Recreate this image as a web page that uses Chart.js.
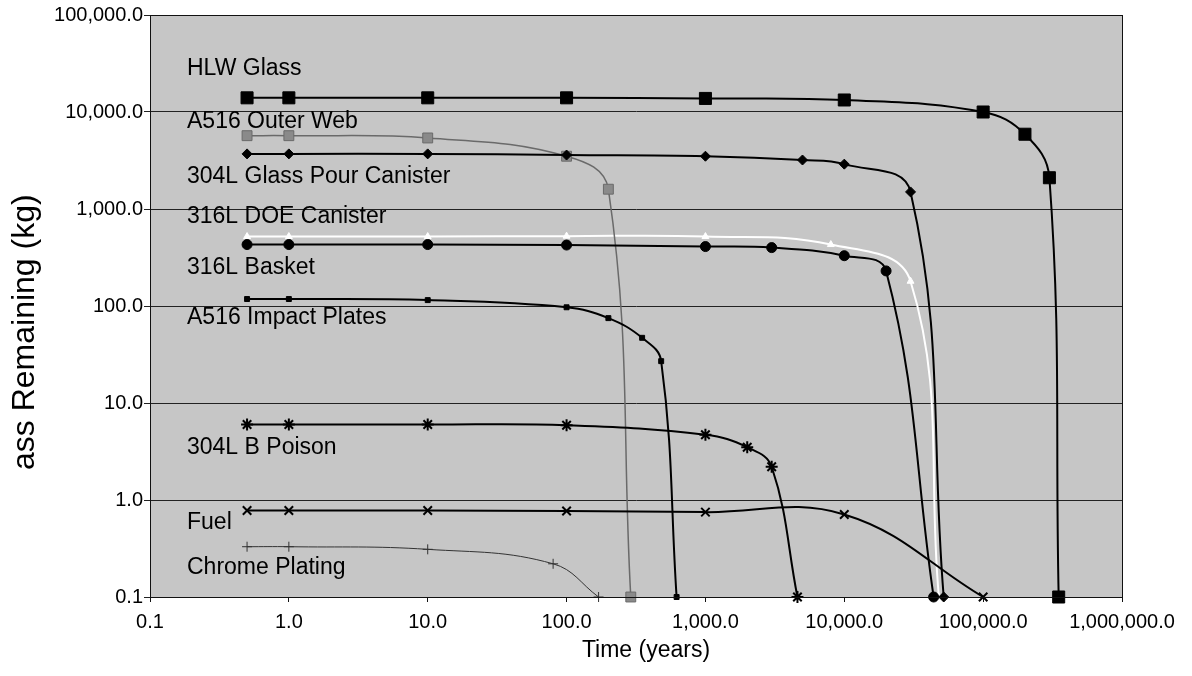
<!DOCTYPE html>
<html>
<head>
<meta charset="utf-8">
<script src="https://cdn.jsdelivr.net/npm/chart.js@4/dist/chart.umd.min.js"></script>
<style>
  html, body { margin: 0; padding: 0; background: #fff; }
</style>
</head>
<body>
<canvas id="decay" width="1192" height="676"></canvas>
<script>
// tick values for both log axes
const xTicks = [0.1, 1, 10, 100, 1000, 10000, 100000, 1000000];
const yTicks = [0.1, 1, 10, 100, 1000, 10000, 100000];

// time (years) and mass remaining (kg)
const hlwYears = [0.5, 1, 10, 100, 1000, 10000, 100000, 200000, 300000, 350000];
const hlwMass = [14000, 14000, 14000, 14000, 13800, 13300, 10000, 5900, 2100, 0.1];

const outerWebYears = [0.5, 1, 10, 100, 200, 290];
const outerWebMass = [5700, 5700, 5400, 3500, 1600, 0.1];

const pourYears = [0.5, 1, 10, 100, 1000, 5000, 10000, 30000, 52000];
const pourMass = [3700, 3700, 3700, 3600, 3500, 3200, 2900, 1500, 0.1];

const doeYears = [0.5, 1, 10, 100, 1000, 8000, 30000, 48000];
const doeMass = [520, 520, 520, 525, 520, 430, 180, 0.1];

const basketYears = [0.5, 1, 10, 100, 1000, 3000, 10000, 20000, 44000];
const basketMass = [430, 430, 430, 425, 410, 400, 330, 230, 0.1];

const impactYears = [0.5, 1, 10, 100, 200, 350, 480, 620];
const impactMass = [118, 118, 115, 97, 75, 47, 27, 0.1];

const poisonYears = [0.5, 1, 10, 100, 1000, 2000, 3000, 4600];
const poisonMass = [6, 6, 6, 5.9, 4.7, 3.5, 2.2, 0.1];

const fuelYears = [0.5, 1, 10, 100, 1000, 10000, 100000];
const fuelMass = [0.78, 0.78, 0.78, 0.77, 0.75, 0.71, 0.1];

const chromeYears = [0.5, 1, 10, 80, 170];
const chromeMass = [0.33, 0.33, 0.31, 0.22, 0.1];

// in-plot series names and the mass level each one sits at
const seriesNames = ['HLW Glass', 'A516 Outer Web', '304L Glass Pour Canister', '316L DOE Canister',
  '316L Basket', 'A516 Impact Plates', '304L B Poison', 'Fuel', 'Chrome Plating'];
const nameLevel = [28000, 8000, 2150, 830, 250, 75, 3.5, 0.58, 0.2];

function pts(xs, ys) {
    return xs.map((x, i) => ({ x: x, y: ys[i] }));
}

function fmt(v) {
    return Number(v).toLocaleString('en-US', { minimumFractionDigits: 1, maximumFractionDigits: 1 });
}

const FONT = "'Liberation Sans', Arial, sans-serif";

// grey plot background + frame
const plotBack = {
    id: 'plotBack',
    beforeDraw(chart) {
        const a = chart.chartArea, ctx = chart.ctx;
        ctx.save();
        ctx.fillStyle = '#c6c6c6';
        ctx.fillRect(a.left, a.top, a.right - a.left, a.bottom - a.top);
        ctx.restore();
    },
    afterDraw(chart) {
        const a = chart.chartArea, ctx = chart.ctx;
        ctx.save();
        ctx.strokeStyle = '#111';
        ctx.lineWidth = 1;
        ctx.strokeRect(a.left + 0.5, a.top + 0.5, a.right - a.left, a.bottom - a.top);
        ctx.restore();
    }
};

// series names written inside the plot, and the axis titles
const words = {
    id: 'words',
    afterDatasetsDraw(chart) {
        const ctx = chart.ctx, a = chart.chartArea, y = chart.scales.y;
        ctx.save();
        ctx.fillStyle = '#000';
        ctx.font = '23px ' + FONT;
        ctx.textBaseline = 'middle';
        ctx.textAlign = 'left';
        seriesNames.forEach((name, i) => {
            ctx.fillText(name, a.left + 37, y.getPixelForValue(nameLevel[i]));
        });

        ctx.textAlign = 'center';
        ctx.fillText('Time (years)', 646, 651);

        ctx.translate(25, 470);
        ctx.rotate(-Math.PI / 2);
        ctx.textAlign = 'left';
        ctx.font = '32px ' + FONT;
        ctx.fillText('ass Remaining (kg)', 0, 0);
        ctx.restore();
    }
};

function line(label, data, color, width, style, radius, fill) {
    return {
        label: label,
        data: data,
        borderColor: color,
        borderWidth: width,
        pointStyle: style,
        pointRadius: radius,
        pointBackgroundColor: fill,
        pointBorderColor: color,
        pointBorderWidth: style === 'star' || style === 'crossRot' ? 2 : 1,
        tension: 0.4,
        clip: 10
    };
}

const ctx = document.getElementById('decay').getContext('2d');
new Chart(ctx, {
    type: 'line',
    data: {
        datasets: [
            line('HLW Glass', pts(hlwYears, hlwMass), '#000', 2, 'rect', 8.5, '#000'),
            line('304L Glass Pour Canister', pts(pourYears, pourMass), '#000', 2, 'rectRot', 5, '#000'),
            line('316L Basket', pts(basketYears, basketMass), '#000', 2, 'circle', 5, '#000'),
            line('A516 Impact Plates', pts(impactYears, impactMass), '#000', 2, 'rect', 3.5, '#000'),
            line('304L B Poison', pts(poisonYears, poisonMass), '#000', 2, 'star', 6, '#000'),
            line('Fuel', pts(fuelYears, fuelMass), '#000', 2, 'crossRot', 6, '#000'),
            line('Chrome Plating', pts(chromeYears, chromeMass), '#333', 1, 'cross', 5, '#333'),
            line('A516 Outer Web', pts(outerWebYears, outerWebMass), '#6a6a6a', 1.5, 'rect', 7, '#8a8a8a'),
            line('316L DOE Canister', pts(doeYears, doeMass), '#fff', 2, 'triangle', 4, '#fff')
        ]
    },
    options: {
        responsive: false,
        animation: false,
        layout: { padding: { top: 15, right: 70, left: 0, bottom: 0 } },
        plugins: {
            legend: { display: false },
            tooltip: { enabled: false }
        },
        scales: {
            x: {
                type: 'logarithmic',
                min: 0.1,
                max: 1000000,
                afterBuildTicks: (scale) => { scale.ticks = xTicks.map(v => ({ value: v })); },
                afterFit: (scale) => { scale.height = 79; },
                ticks: {
                    callback: (v) => fmt(v),
                    color: '#000',
                    font: { family: FONT, size: 20 },
                    padding: 8,
                    maxRotation: 0,
                    autoSkip: false
                },
                grid: { drawOnChartArea: false, color: '#111', tickLength: 5 },
                border: { color: '#111', width: 1 }
            },
            y: {
                type: 'logarithmic',
                min: 0.1,
                max: 100000,
                afterBuildTicks: (scale) => { scale.ticks = yTicks.map(v => ({ value: v })); },
                afterFit: (scale) => { scale.width = 150; },
                ticks: {
                    callback: (v) => fmt(v),
                    color: '#000',
                    font: { family: FONT, size: 20 },
                    padding: 1,
                    autoSkip: false
                },
                grid: { color: '#222', lineWidth: 1, tickLength: 6 },
                border: { color: '#111', width: 1 }
            }
        }
    },
    plugins: [plotBack, words]
});
</script>
</body>
</html>
